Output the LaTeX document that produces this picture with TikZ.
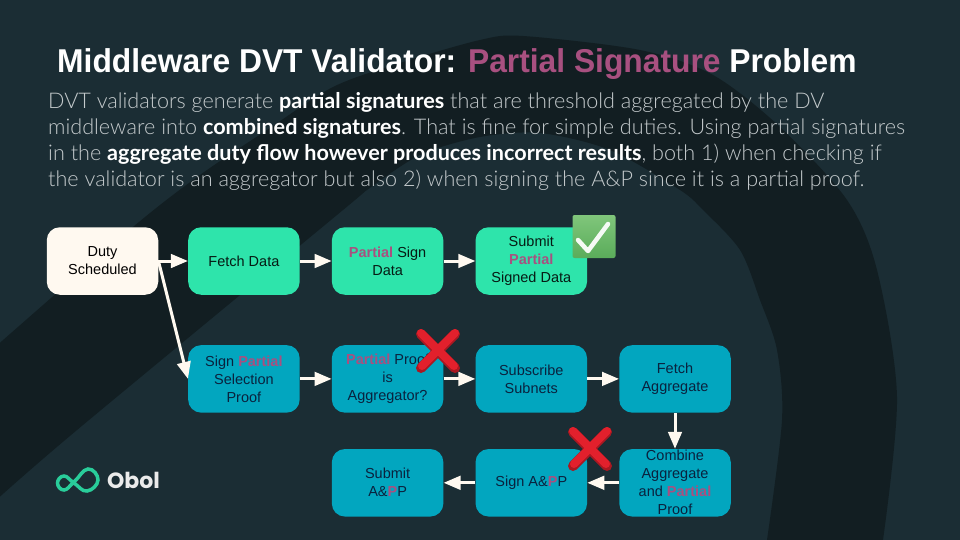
\documentclass[tikz,border=0pt]{standalone}
\usepackage{xcolor}
\usepackage{fontspec}
\setmainfont{Liberation Sans}
\newfontfamily\titlefont[FakeStretch=0.963]{Liberation Sans}
\newfontfamily\bodyfont[UprightFont=* Light,BoldFont=* Bold]{Lato}
\newfontfamily\logofont{Poppins}
\usetikzlibrary{arrows.meta,positioning}
\definecolor{oboBack}{RGB}{27,45,52}
\definecolor{oboBand}{RGB}{18,30,34}
\definecolor{oboCream}{RGB}{255,249,240}
\definecolor{oboGreen}{RGB}{46,228,171}
\definecolor{oboBlue}{RGB}{2,166,191}
\definecolor{oboPink}{RGB}{168,80,128}
\definecolor{oboBody}{RGB}{196,202,204}
\definecolor{oboRed}{RGB}{226,32,44}
\definecolor{oboNavy}{RGB}{10,34,62}
\definecolor{oboTickTop}{RGB}{128,198,123}
\definecolor{oboTickLow}{RGB}{90,172,90}
\newcommand{\pw}[1]{\textcolor{oboPink}{\textbf{#1}}}

\begin{document}
\begin{tikzpicture}[x=1pt,y=-1pt,
  box/.style={rounded corners=13pt,align=center,minimum width=111.5pt,minimum height=67.5pt,inner sep=0pt,font=\fontsize{14.5}{18}\selectfont},
  s/.style={box,fill=oboCream,text=black},
  g/.style={box,fill=oboGreen,text=black!88!oboGreen},
  c/.style={box,fill=oboBlue,text=oboNavy},
  arrow/.style={-{Triangle[length=17pt,width=13.5pt]},line width=3pt,oboCream}
]
  \useasboundingbox (0,0) rectangle (960,540);
  \fill[oboBack] (0,0) rectangle (960,540);
  \fill[oboBand] plot[smooth] coordinates {(-6,348) (133,227) (200,175) (267,130) (333,87) (400,63) (480,40) (523,36) (640,50) (713,75) (780,127) (847,200) (877,270) (897,397) (883,540)}
    -- plot[smooth] coordinates {(767,540) (782,420) (777,350) (760,300) (740,250) (703,210) (680,190) (610,150) (540,133) (480,137) (420,155) (367,190) (343,210) (77,430) (-6,502)} -- cycle;

  \node[anchor=base west,inner sep=0pt,text=white,font=\titlefont\fontsize{33}{38}\selectfont\bfseries] (title) at (57,73)
    {Middleware DVT Validator: \textcolor{oboPink}{Partial Signature} Problem};
  \node[anchor=north west,inner sep=0pt,align=left,text=oboBody,font=\bodyfont\fontsize{21.6}{26}\selectfont] (body) at (48,92.5)
    {DVT validators generate \textcolor{white}{\textbf{partial signatures}} that are threshold aggregated by the DV\\
     middleware into \textcolor{white}{\textbf{combined signatures}}. That is fine for simple duties. Using partial signatures\\
     in the \textcolor{white}{\textbf{aggregate duty flow however produces incorrect results}}, both 1) when checking if\\
     the validator is an aggregator but also 2) when signing the A\&P since it is a partial proof.};

  \node[s] (duty) at (102.5,261) {Duty\\Scheduled};
  \node[g,right=29.5pt of duty] (fetch) {Fetch Data};
  \node[g,right=31.8pt of fetch] (sign) {\pw{Partial} Sign\\Data};
  \node[g,right=31.8pt of sign] (submit) {Submit\\\pw{Partial}\\Signed Data};
  \node[c,below=50pt of fetch] (sel) {Sign \pw{Partial}\\Selection\\Proof};
  \node[c,right=31.8pt of sel] (isagg) {\pw{Partial} Proof\\is\\Aggregator?};
  \node[c,right=31.8pt of isagg] (subnets) {Subscribe\\Subnets};
  \node[c,right=31.8pt of subnets] (fetchagg) {Fetch\\Aggregate};
  \node[c,below=36pt of fetchagg] (combine) {Combine\\Aggregate\\and \pw{Partial}\\Proof};
  \node[c,left=31.8pt of combine] (signap) {Sign A\&\pw{P}P};
  \node[c,left=31.8pt of signap] (submitap) {Submit\\A\&\pw{P}P};

  \draw[arrow] (duty) -- (fetch);
  \draw[arrow] (fetch) -- (sign);
  \draw[arrow] (sign) -- (submit);
  \draw[arrow] (duty.east) -- (sel.west);
  \draw[arrow] (sel) -- (isagg);
  \draw[arrow] (isagg) -- (subnets);
  \draw[arrow] (subnets) -- (fetchagg);
  \draw[arrow] (fetchagg) -- (combine);
  \draw[arrow] (combine) -- (signap);
  \draw[arrow] (signap) -- (submitap);

  \node[minimum size=43pt,inner sep=0pt,rounded corners=2pt,top color=oboTickTop,bottom color=oboTickLow] (check) at (594,236.5) {};
  \draw[white!92!oboTickTop,line width=4.5pt,line cap=round,line join=round] (578,240) -- (588,251) -- (608,224);
  \foreach \cx/\cy in {438/351,590/449} {
    \draw[oboRed!75!black,line width=10pt,line cap=round] (\cx-17,\cy-17) -- (\cx+17,\cy+17) (\cx+17,\cy-17) -- (\cx-17,\cy+17);
    \draw[oboRed,line width=8pt,line cap=round] (\cx-17,\cy-18) -- (\cx+16,\cy+15) (\cx+17,\cy-18) -- (\cx-16,\cy+15);
  }

  \draw[oboGreen!90!black,line width=3.5pt] plot[smooth cycle,tension=.8] coordinates {(64,476) (74,483) (87,491) (98,480) (88,469) (74,482) (64,490) (57.5,483)};
  \node[anchor=base west,inner sep=0pt,text=white!92!black,font=\logofont\fontsize{22}{28}\selectfont\bfseries] (obol) at (107,488) {Obol};
\end{tikzpicture}
\end{document}
